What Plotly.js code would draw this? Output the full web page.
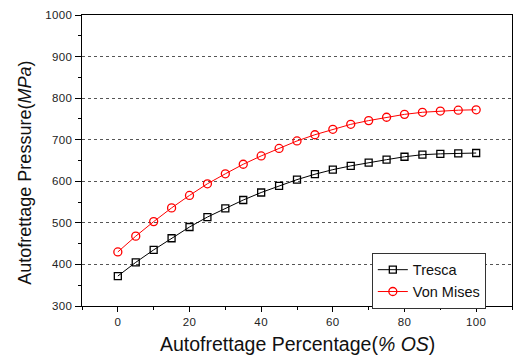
<!DOCTYPE html>
<html>
<head>
<meta charset="utf-8">
<script src="https://cdn.plot.ly/plotly-3.0.1.min.js"></script>
<style>
  html, body { margin: 0; padding: 0; background: #fff; }
  #chart { width: 513px; height: 357px; }
  .xtick text, .ytick text { letter-spacing: 0.4px; }
</style>
</head>
<body>
<div id="chart"></div>
<script>
// Autofrettage percentage (% OS)
const percentage = [0, 5, 10, 15, 20, 25, 30, 35, 40, 45, 50, 55, 60, 65, 70, 75, 80, 85, 90, 95, 100];
// Autofrettage pressure (MPa) by yield criterion
const tresca = [372, 405, 435, 463, 490, 514, 535, 555, 573, 589, 604, 617, 628, 637, 645, 652, 659, 664, 666, 667, 668];
const vonMises = [430, 468, 503, 536, 566, 594, 618, 641, 661, 679, 697, 712, 725, 737, 746, 754, 761, 766, 769, 771, 772];
const seriesNames = ['Tresca', 'Von Mises'];
const xTitle = 'Autofrettage Percentage(<i>% OS</i>)';
const yTitle = 'Autofrettage Pressure(<i>MPa</i>)';

const font = 'Arial, "Liberation Sans", sans-serif';

const traces = [
  {
    x: percentage, y: tresca, name: seriesNames[0],
    type: 'scatter', mode: 'lines+markers',
    line: { color: '#000000', width: 1 },
    marker: { symbol: 'square-open', size: 7, color: '#000000', line: { width: 1.3 } }
  },
  {
    x: percentage, y: vonMises, name: seriesNames[1],
    type: 'scatter', mode: 'lines+markers',
    line: { color: '#ff0000', width: 1 },
    marker: { symbol: 'circle-open', size: 8, color: '#ff0000', line: { width: 1.3 } }
  }
];

const axisCommon = {
  showline: true, linecolor: '#000', linewidth: 1.3, mirror: true,
  ticks: 'outside', tickcolor: '#000', tickwidth: 1, ticklen: 5,
  tickfont: { family: font, size: 11.5, color: '#222' },
  zeroline: false
};

const layout = {
  width: 513, height: 357,
  margin: { l: 82, r: 1, t: 15, b: 51 },
  paper_bgcolor: '#fff', plot_bgcolor: '#fff',
  showlegend: true,
  xaxis: Object.assign({}, axisCommon, {
    range: [-10, 110], tick0: 0, dtick: 20, showgrid: false,
    minor: { dtick: 10, ticks: 'outside', ticklen: 3, tickcolor: '#000', showgrid: false }
  }),
  yaxis: Object.assign({}, axisCommon, {
    range: [300, 1000], tick0: 300, dtick: 100, ticklen: 6,
    showgrid: true, gridcolor: '#555', gridwidth: 1, griddash: 'dot',
    minor: { dtick: 50, ticks: 'outside', ticklen: 3, tickcolor: '#000', showgrid: false }
  }),
  legend: {
    x: 0.674, y: 0.183, xanchor: 'left', yanchor: 'top',
    bgcolor: '#fff', bordercolor: '#333', borderwidth: 1,
    font: { family: font, size: 14.5, color: '#111' },
    tracegroupgap: 0, itemwidth: 30
  },
  annotations: [
    {
      text: xTitle, xref: 'paper', yref: 'paper', x: 0.5, y: -0.132,
      xanchor: 'center', yanchor: 'middle', showarrow: false,
      font: { family: font, size: 19.5, color: '#111' }
    },
    {
      text: yTitle, xref: 'paper', yref: 'paper', x: -0.1326, y: 0.458,
      xanchor: 'center', yanchor: 'middle', showarrow: false, textangle: -90,
      font: { family: font, size: 18, color: '#111' }
    }
  ]
};

Plotly.newPlot('chart', traces, layout, { displayModeBar: false, staticPlot: true });
</script>
</body>
</html>
